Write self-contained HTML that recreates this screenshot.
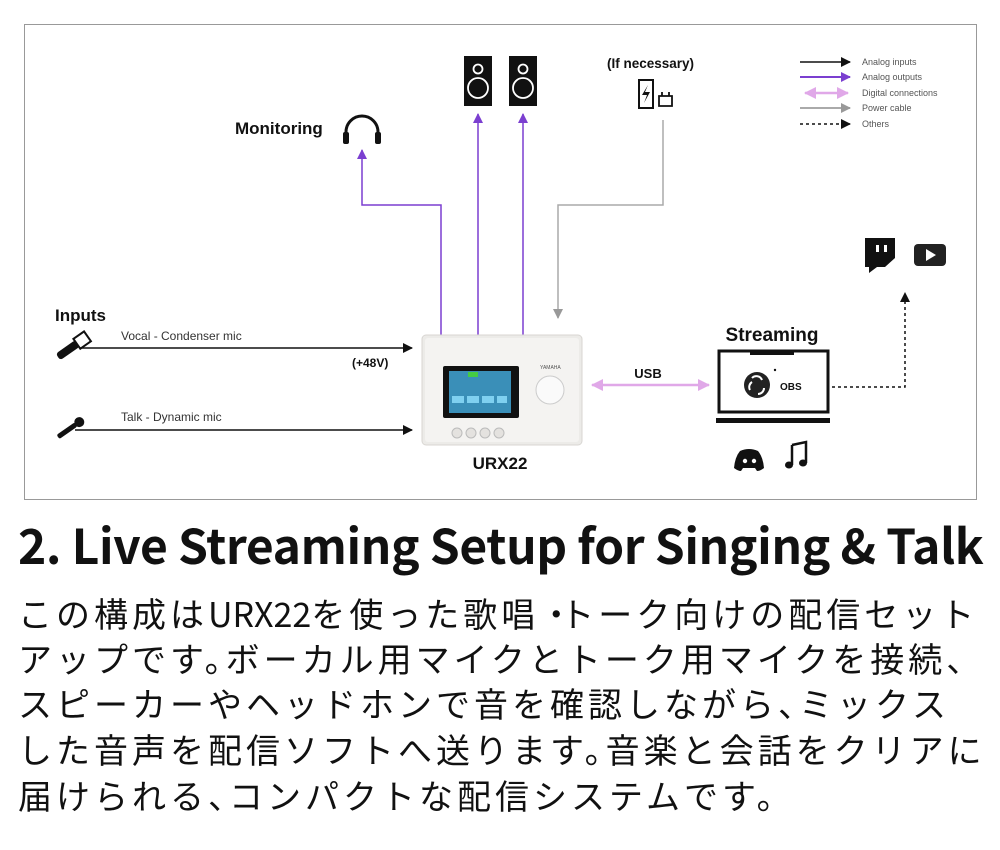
<!DOCTYPE html>
<html><head><meta charset="utf-8"><style>
body{margin:0;background:#fff;width:1000px;height:850px;overflow:hidden;font-family:"Liberation Sans",sans-serif}
.t{position:absolute;left:18px;top:508px;font-family:"Noto Sans CJK JP","Liberation Sans",sans-serif;font-weight:700;font-size:48px;letter-spacing:-0.4px;white-space:nowrap;color:#111}
.jp{position:absolute;left:18px;font-family:"Noto Sans CJK JP",sans-serif;font-size:34px;letter-spacing:4px;white-space:nowrap;color:#111;line-height:1}
.p{margin-right:-17px}
</style></head><body>
<svg width="1000" height="505" style="position:absolute;left:0;top:0" font-family="Liberation Sans, sans-serif">
<defs>
<marker id="ab" markerWidth="10" markerHeight="10" refX="9" refY="5" orient="auto" markerUnits="userSpaceOnUse"><path d="M0,0L10,5L0,10z" fill="#111"/></marker>
<marker id="ap" markerWidth="10" markerHeight="10" refX="9" refY="5" orient="auto" markerUnits="userSpaceOnUse"><path d="M0,0L10,5L0,10z" fill="#7b3fd0"/></marker>
<marker id="ag" markerWidth="10" markerHeight="10" refX="9" refY="5" orient="auto" markerUnits="userSpaceOnUse"><path d="M0,0L10,5L0,10z" fill="#999"/></marker>
<marker id="al" markerWidth="12" markerHeight="12" refX="11" refY="6" orient="auto-start-reverse" markerUnits="userSpaceOnUse"><path d="M0,0L12,6L0,12z" fill="#e0a8e8"/></marker>
</defs>
<rect x="24.5" y="24.5" width="952" height="475" fill="#fff" stroke="#999"/>
<g stroke-width="1.5">
<line x1="800" y1="62" x2="850" y2="62" stroke="#111" marker-end="url(#ab)"/>
<line x1="800" y1="77" x2="850" y2="77" stroke="#7b3fd0" stroke-width="2" marker-end="url(#ap)"/>
<line x1="805" y1="93" x2="848" y2="93" stroke="#e0a8e8" stroke-width="2.5" marker-start="url(#al)" marker-end="url(#al)"/>
<line x1="800" y1="108" x2="850" y2="108" stroke="#aaa" stroke-width="2" marker-end="url(#ag)"/>
<line x1="800" y1="124" x2="850" y2="124" stroke="#111" stroke-dasharray="3,3" marker-end="url(#ab)"/>
</g>
<g font-size="9" fill="#555"><text x="862" y="65">Analog inputs</text><text x="862" y="80">Analog outputs</text><text x="862" y="96">Digital connections</text><text x="862" y="111">Power cable</text><text x="862" y="127">Others</text></g>
<text x="235" y="134" font-size="17" font-weight="bold" fill="#111">Monitoring</text>
<path d="M346,140 v-8 a16,16 0 0 1 32,0 v8" fill="none" stroke="#111" stroke-width="3"/>
<rect x="343" y="132" width="6" height="12" rx="2" fill="#111"/><rect x="375" y="132" width="6" height="12" rx="2" fill="#111"/>
<polyline points="441,335 441,205 362,205 362,150" fill="none" stroke="#7b3fd0" stroke-width="1.5" marker-end="url(#ap)"/>
<line x1="478" y1="335" x2="478" y2="114" stroke="#7b3fd0" stroke-width="1.5" marker-end="url(#ap)"/>
<line x1="523" y1="335" x2="523" y2="114" stroke="#7b3fd0" stroke-width="1.5" marker-end="url(#ap)"/>
<g><rect x="464" y="56" width="28" height="50" fill="#111"/><circle cx="478" cy="69" r="4.5" fill="none" stroke="#fff" stroke-width="1.8"/><circle cx="478" cy="88" r="10" fill="none" stroke="#fff" stroke-width="1.8"/>
<rect x="509" y="56" width="28" height="50" fill="#111"/><circle cx="523" cy="69" r="4.5" fill="none" stroke="#fff" stroke-width="1.8"/><circle cx="523" cy="88" r="10" fill="none" stroke="#fff" stroke-width="1.8"/></g>
<text x="607" y="68" font-size="13.5" font-weight="bold" fill="#111">(If necessary)</text>
<rect x="639" y="80" width="14" height="28" fill="none" stroke="#111" stroke-width="2"/><path d="M648,85 L642,95 L647,95 L644,103 L650,92 L645,92z" fill="#111"/>
<path d="M662,96 v-4 M669,96 v-4 M659,96 h13 v10 h-13z" fill="none" stroke="#111" stroke-width="1.8"/>
<polyline points="663,120 663,205 558,205 558,318" fill="none" stroke="#aaa" stroke-width="1.5" marker-end="url(#ag)"/>
<text x="55" y="321" font-size="17" font-weight="bold" fill="#111">Inputs</text>
<g transform="translate(58,357) rotate(-35)"><rect x="0" y="-4" width="24" height="8" rx="3" fill="#111"/><rect x="23" y="-6" width="13" height="12" fill="#fff" stroke="#111" stroke-width="2"/></g>
<line x1="80" y1="348" x2="412" y2="348" stroke="#111" stroke-width="1.5" marker-end="url(#ab)"/>
<text x="121" y="340" font-size="12" fill="#333">Vocal - Condenser mic</text>
<text x="352" y="367" font-size="12" font-weight="bold" fill="#111">(+48V)</text>
<g transform="translate(58,437) rotate(-35)"><rect x="0" y="-2.5" width="22" height="5" rx="2" fill="#111"/><circle cx="26" cy="0" r="5" fill="#111"/></g>
<line x1="75" y1="430" x2="412" y2="430" stroke="#111" stroke-width="1.5" marker-end="url(#ab)"/>
<text x="121" y="421" font-size="12" fill="#333">Talk - Dynamic mic</text>
<rect x="422" y="335" width="160" height="110" rx="4" fill="#ecebe8" stroke="#d8d6d2"/>
<rect x="425" y="338" width="154" height="104" rx="3" fill="#f4f3f1"/>
<rect x="443" y="366" width="76" height="52" rx="2" fill="#111"/>
<rect x="449" y="371" width="62" height="42" fill="#3a8fb8"/>
<g fill="#7fd0f0"><rect x="452" y="396" width="12" height="7"/><rect x="467" y="396" width="12" height="7"/><rect x="482" y="396" width="12" height="7"/><rect x="497" y="396" width="10" height="7"/></g>
<rect x="468" y="372" width="10" height="5" fill="#4c4"/>
<circle cx="550" cy="390" r="14" fill="#fafafa" stroke="#ccc"/>
<g fill="#e4e2df" stroke="#bbb"><circle cx="457" cy="433" r="5"/><circle cx="471" cy="433" r="5"/><circle cx="485" cy="433" r="5"/><circle cx="499" cy="433" r="5"/></g>
<text x="540" y="369" font-size="5" fill="#555">YAMAHA</text>
<text x="500" y="469" font-size="17" font-weight="bold" fill="#111" text-anchor="middle">URX22</text>
<line x1="592" y1="385" x2="709" y2="385" stroke="#e0a8e8" stroke-width="2.5" marker-start="url(#al)" marker-end="url(#al)"/>
<text x="648" y="378" font-size="13" font-weight="bold" fill="#111" text-anchor="middle">USB</text>
<text x="772" y="341" font-size="19" font-weight="bold" fill="#111" text-anchor="middle">Streaming</text>
<rect x="719" y="351" width="109" height="61" fill="#fff" stroke="#111" stroke-width="3"/>
<rect x="750" y="352" width="44" height="3" fill="#111"/>
<rect x="716" y="418" width="114" height="5" fill="#111"/>
<circle cx="757" cy="385" r="13" fill="#222"/>
<path d="M752,378 a6,6 0 0 1 10,2 M764,388 a6,6 0 0 1 -6,6 M750,390 a6,6 0 0 1 2,-8" fill="none" stroke="#fff" stroke-width="2"/>
<text x="780" y="390" font-size="10" font-weight="bold" fill="#111">OBS</text>
<circle cx="775" cy="370" r="1.2" fill="#111"/>
<polyline points="832,387 905,387 905,293" fill="none" stroke="#111" stroke-width="1.5" stroke-dasharray="3,3" marker-end="url(#ab)"/>
<path d="M865,238 h30 v20 l-10,9 h-8 l-8,6 v-6 h-4z" fill="#111"/>
<rect x="876" y="245" width="3" height="7" fill="#fff"/><rect x="884" y="245" width="3" height="7" fill="#fff"/>
<rect x="914" y="244" width="32" height="22" rx="4" fill="#222"/><path d="M926,249 L936,255 L926,261z" fill="#fff"/>
<path d="M740,451 q9,-4 18,0 q5,6 6,17 q-4,3 -7,3 l-2,-3 h-12 l-2,3 q-3,0 -7,-3 q1,-11 6,-17z" fill="#111"/>
<circle cx="745" cy="461" r="2.2" fill="#fff"/><circle cx="754" cy="461" r="2.2" fill="#fff"/>
<path d="M792,445 l14,-3 v21" fill="none" stroke="#111" stroke-width="2.5"/><line x1="792" y1="445" x2="792" y2="465" stroke="#111" stroke-width="2.5"/>
<ellipse cx="789" cy="465" rx="4" ry="3.5" fill="#111"/><ellipse cx="803" cy="463" rx="4" ry="3.5" fill="#111"/>
</svg>
<div class="t">2. Live Streaming Setup for Singing &amp; Talk</div>
<div class="jp" style="top:596px">この構成は<span style="letter-spacing:0">URX22</span>を使った歌唱<span class="p">・</span>トーク向けの配信セット</div>
<div class="jp" style="top:641px">アップです<span class="p">。</span>ボーカル用マイクとトーク用マイクを接続<span class="p">、</span></div>
<div class="jp" style="top:686px">スピーカーやヘッドホンで音を確認しながら<span class="p">、</span>ミックス</div>
<div class="jp" style="top:732px">した音声を配信ソフトへ送ります<span class="p">。</span>音楽と会話をクリアに</div>
<div class="jp" style="top:778px">届けられる<span class="p">、</span>コンパクトな配信システムです<span class="p">。</span></div>
</body></html>
